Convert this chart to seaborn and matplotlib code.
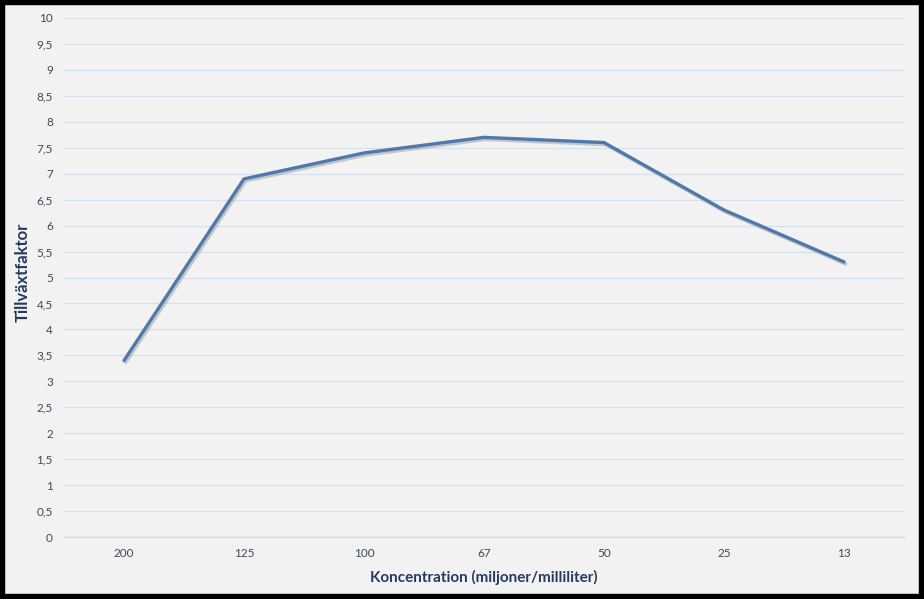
import matplotlib
matplotlib.use("Agg")
import matplotlib.pyplot as plt
import matplotlib.patheffects as pe
from matplotlib.ticker import FixedLocator, FuncFormatter
import seaborn as sns
import pandas as pd

concentrations = ["200", "125", "100", "67", "50", "25", "13"]
growth_factor = [3.4, 6.9, 7.4, 7.7, 7.6, 6.3, 5.3]
y_ticks = [i * 0.5 for i in range(21)]

sns.set_style("white")
plt.rcParams['font.family'] = ['Lato', 'DejaVu Sans']

bg = "#f2f2f2"
fig = plt.figure(figsize=(9.24, 5.99), dpi=100, facecolor=bg)
ax = fig.add_axes([64/924, 62/599, 840/924, 519/599])
ax.set_facecolor(bg)

df = pd.DataFrame({"Koncentration": concentrations, "Tillväxtfaktor": growth_factor})
sns.lineplot(data=df, x="Koncentration", y="Tillväxtfaktor", ax=ax, color="#4f79ad",
             linewidth=2.4, sort=False,
             path_effects=[pe.SimpleLineShadow(offset=(1.2, -1.5), shadow_color="#9a9a9a", alpha=0.5),
                           pe.Normal()])

ax.set_xlim(-0.5, len(concentrations) - 0.5)
ax.set_ylim(0, 10)
ax.yaxis.set_major_locator(FixedLocator(y_ticks))
ax.yaxis.set_major_formatter(FuncFormatter(lambda v, p: (f"{v:g}").replace(".", ",")))
ax.grid(axis="y", color="#d6e1ec", linewidth=0.9)
ax.set_axisbelow(True)
for s in ["top", "right", "left"]:
    ax.spines[s].set_visible(False)
ax.spines["bottom"].set_color("#d0d7de")
ax.spines["bottom"].set_linewidth(0.9)

ax.tick_params(axis="y", length=0, pad=8, labelsize=8.5, labelcolor="#3b4a5e")
ax.tick_params(axis="x", which="major", length=0, pad=8, labelsize=8.5, labelcolor="#3b4a5e")
ax.xaxis.set_minor_locator(FixedLocator([i - 0.5 for i in range(len(concentrations) + 1)]))
ax.tick_params(axis="x", which="minor", length=4, direction="inout", color="#d0d7de", width=0.9)

ax.set_xlabel("Koncentration (miljoner/milliliter)", fontsize=11, fontweight="bold",
              color="#243a5e", labelpad=8)
ax.set_ylabel("Tillväxtfaktor", fontsize=12, fontweight="bold", color="#243a5e")
ax.yaxis.set_label_coords((31 - 64) / 840, 0.51)

fig.add_artist(plt.Rectangle((0, 0), 1, 1, transform=fig.transFigure, fill=False,
                             edgecolor="black", linewidth=7.5, clip_on=False))

fig.savefig("out.png", dpi=100, facecolor=bg)
